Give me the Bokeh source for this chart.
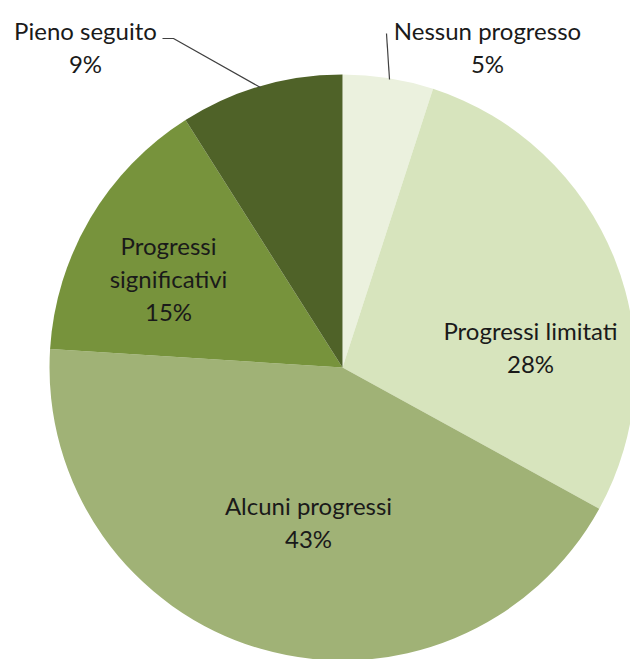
import numpy as np
from bokeh.plotting import figure
from bokeh.models import Range1d, ColumnDataSource
from bokeh.core.properties import value
from bokeh.embed import file_html
from bokeh.resources import INLINE

categories = ["Nessun progresso", "Progressi limitati", "Alcuni progressi",
              "Progressi significativi", "Pieno seguito"]
percent = [5, 28, 43, 15, 9]
colors = ["#EBF1DE", "#D7E4BD", "#A0B276", "#77933C", "#4F6228"]

W, H = 630, 659
cx, cy, R = 342, H - 367, 293

vals = np.array(percent, dtype=float)
frac = vals / vals.sum()
cum = np.concatenate([[0], np.cumsum(frac)])
start = np.pi / 2 - cum[:-1] * 2 * np.pi
end = np.pi / 2 - cum[1:] * 2 * np.pi

p = figure(width=W, height=H, x_range=Range1d(0, W), y_range=Range1d(0, H),
           output_backend="svg", toolbar_location=None, min_border=0)
p.axis.visible = False
p.grid.visible = False
p.outline_line_color = None
p.background_fill_color = "white"

src = ColumnDataSource(dict(start=start, end=end, color=colors))
p.wedge(x=cx, y=cy, radius=R, start_angle="start", end_angle="end",
        direction="clock", fill_color="color", line_color=None, source=src)

# leader lines (layout)
p.line(x=[162, 173, 260], y=[H - 38, H - 38, H - 87], line_color="#404040", line_width=1.2)
p.line(x=[386, 389], y=[H - 33, H - 79], line_color="#404040", line_width=1.2)

# label layout: (category index -> x, y of first line, text lines)
label_pos = {
    4: (85, 30, ["Pieno seguito"]),
    0: (487, 30, ["Nessun progresso"]),
    1: (530, 330, ["Progressi limitati"]),
    2: (308, 505, ["Alcuni progressi"]),
    3: (168, 245, ["Progressi", "significativi"]),
}
lh = 33
tx, ty, tt = [], [], []
for i, (x, y, lines) in label_pos.items():
    all_lines = lines + [f"{percent[i]}%"]
    for k, line in enumerate(all_lines):
        tx.append(x)
        ty.append(H - (y + k * lh))
        tt.append(line)
p.text(x=tx, y=ty, text=tt, text_align="center", text_baseline="middle",
       text_font=value("Lato"), text_font_size="24px", text_color="#1a1a1a")

open("out.html", "w").write(file_html(p, INLINE))
